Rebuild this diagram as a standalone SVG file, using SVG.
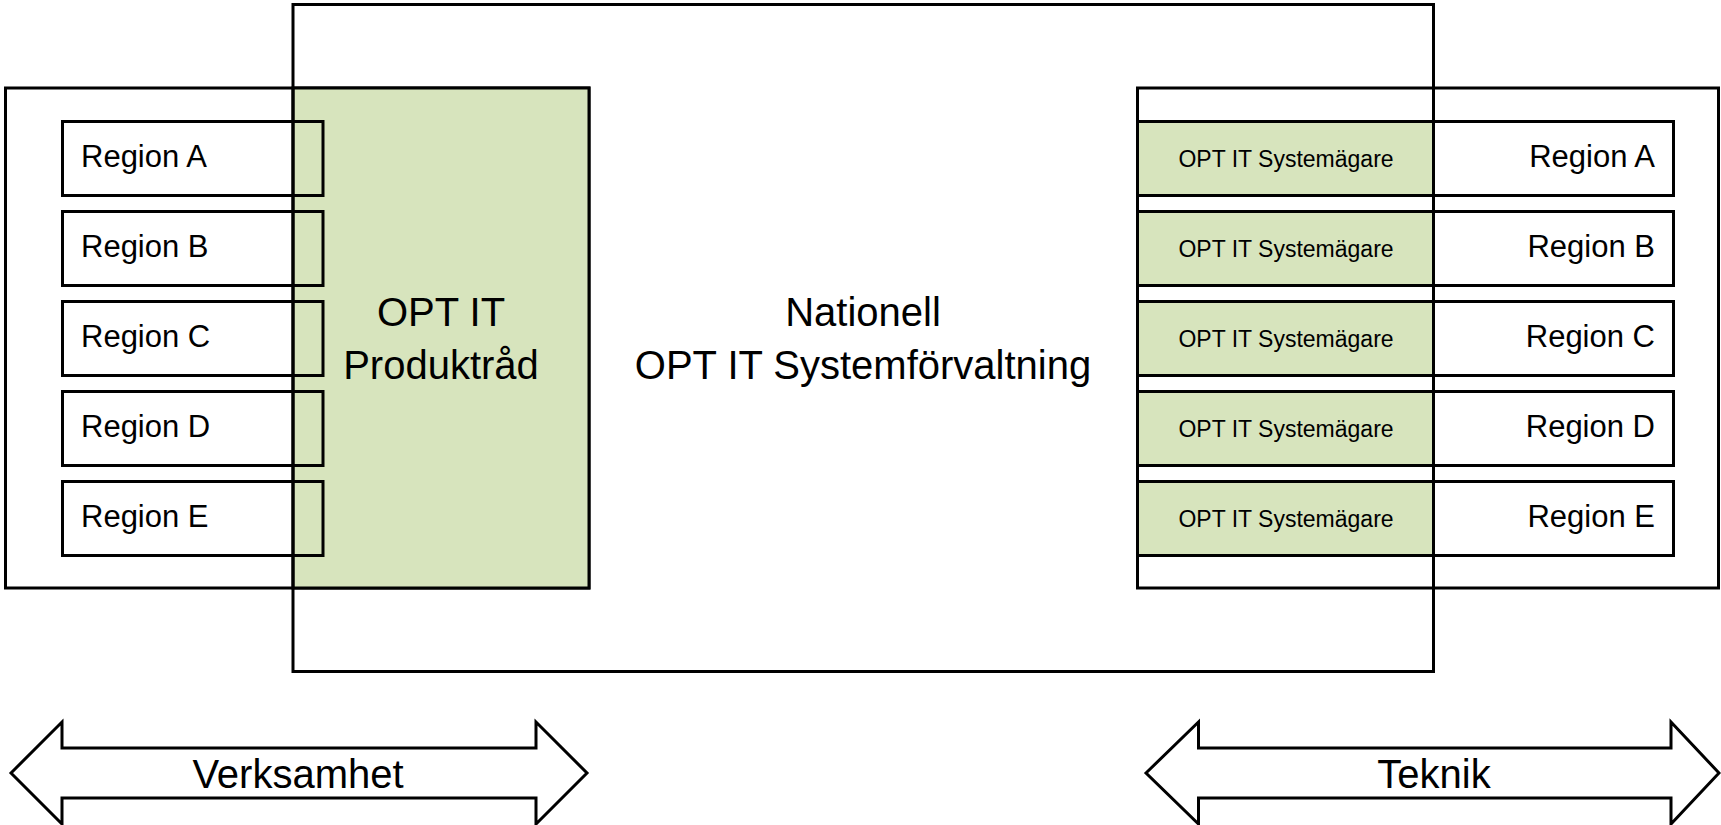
<svg xmlns="http://www.w3.org/2000/svg" width="1721" height="825" viewBox="0 0 1721 825">
<style>
.box{fill:#fff;stroke:#000;stroke-width:3}
.open{fill:none;stroke:#000;stroke-width:3}
.green{fill:#D7E4BD;stroke:#000;stroke-width:3}
.arrow{fill:#fff;stroke:#000;stroke-width:3;stroke-linejoin:miter}
text{font-family:"Liberation Sans",Arial,sans-serif;fill:#000}
.big{font-size:40px}
.reg{font-size:31px}
.small{font-size:23px}
</style>
<rect width="1721" height="825" fill="#fff"/>
<g id="left-group">
<rect class="box" x="5.5" y="88" width="583.5" height="500"/>
<rect id="produktrad" class="green" x="293" y="88" width="296" height="500"/>
</g>
<g id="right-group">
<rect class="box" x="1137.5" y="88" width="581" height="500"/>
</g>
<g id="left-regions">
<g id="left-region-a"><rect class="open" x="62.5" y="121.5" width="260.5" height="74"/><text class="reg" x="81" y="167">Region A</text></g>
<g id="left-region-b"><rect class="open" x="62.5" y="211.5" width="260.5" height="74"/><text class="reg" x="81" y="257">Region B</text></g>
<g id="left-region-c"><rect class="open" x="62.5" y="301.5" width="260.5" height="74"/><text class="reg" x="81" y="347">Region C</text></g>
<g id="left-region-d"><rect class="open" x="62.5" y="391.5" width="260.5" height="74"/><text class="reg" x="81" y="437">Region D</text></g>
<g id="left-region-e"><rect class="open" x="62.5" y="481.5" width="260.5" height="74"/><text class="reg" x="81" y="527">Region E</text></g>
</g>
<g id="right-rows">
<g id="sys-a"><rect class="green" x="1137.5" y="121.5" width="296" height="74"/><text class="small" x="1286" y="166.5" text-anchor="middle">OPT IT Systemägare</text></g>
<g id="sys-b"><rect class="green" x="1137.5" y="211.5" width="296" height="74"/><text class="small" x="1286" y="256.5" text-anchor="middle">OPT IT Systemägare</text></g>
<g id="sys-c"><rect class="green" x="1137.5" y="301.5" width="296" height="74"/><text class="small" x="1286" y="346.5" text-anchor="middle">OPT IT Systemägare</text></g>
<g id="sys-d"><rect class="green" x="1137.5" y="391.5" width="296" height="74"/><text class="small" x="1286" y="436.5" text-anchor="middle">OPT IT Systemägare</text></g>
<g id="sys-e"><rect class="green" x="1137.5" y="481.5" width="296" height="74"/><text class="small" x="1286" y="526.5" text-anchor="middle">OPT IT Systemägare</text></g>
<g id="right-region-a"><rect class="open" x="1433.5" y="121.5" width="240" height="74"/><text class="reg" x="1655" y="167" text-anchor="end">Region A</text></g>
<g id="right-region-b"><rect class="open" x="1433.5" y="211.5" width="240" height="74"/><text class="reg" x="1655" y="257" text-anchor="end">Region B</text></g>
<g id="right-region-c"><rect class="open" x="1433.5" y="301.5" width="240" height="74"/><text class="reg" x="1655" y="347" text-anchor="end">Region C</text></g>
<g id="right-region-d"><rect class="open" x="1433.5" y="391.5" width="240" height="74"/><text class="reg" x="1655" y="437" text-anchor="end">Region D</text></g>
<g id="right-region-e"><rect class="open" x="1433.5" y="481.5" width="240" height="74"/><text class="reg" x="1655" y="527" text-anchor="end">Region E</text></g>
</g>
<g id="nationell">
<rect class="open" x="293" y="4.5" width="1140.5" height="667"/>
<text class="big" x="863" y="326" text-anchor="middle">Nationell</text>
<text class="big" x="863" y="378.5" text-anchor="middle">OPT IT Systemförvaltning</text>
</g>
<g id="produktrad-label">
<text class="big" x="441" y="326" text-anchor="middle">OPT IT</text>
<text class="big" x="441" y="378.5" text-anchor="middle">Produktråd</text>
</g>
<g id="connectors">
<g id="verksamhet">
<polygon class="arrow" points="11,773 62,722 62,748 536,748 536,722 587,773 536,824 536,798 62,798 62,824"/>
<text class="big" x="298" y="788" text-anchor="middle">Verksamhet</text>
</g>
<g id="teknik">
<polygon class="arrow" points="1146,773 1198.5,722 1198.5,748 1671,748 1671,722 1719,773 1671,824 1671,798 1198.5,798 1198.5,824"/>
<text class="big" x="1434" y="788" text-anchor="middle">Teknik</text>
</g>
</g>
</svg>
